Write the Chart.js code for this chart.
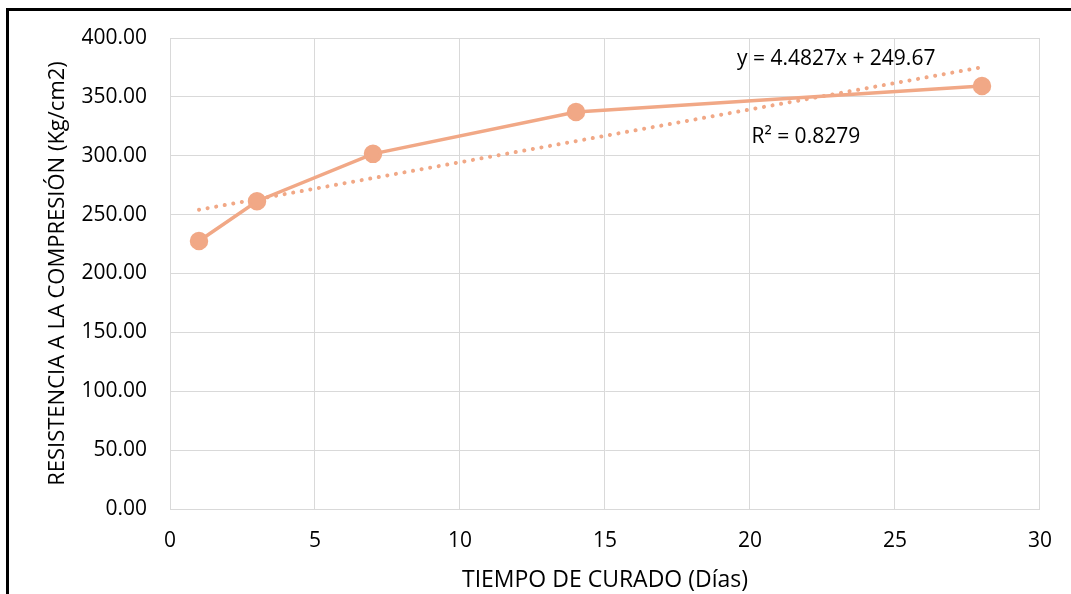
<!DOCTYPE html>
<html>
<head>
<meta charset="utf-8">
<script src="https://cdn.jsdelivr.net/npm/chart.js"></script>
<style>
  body { margin: 0; background: #fff; }
  #wrap { position: relative; width: 1071px; height: 594px; overflow: hidden; }
  #frame { position: absolute; left: 6px; top: 8px; width: 2000px; height: 2000px;
           border-left: 3px solid #000; border-top: 3px solid #000; pointer-events: none; }
</style>
</head>
<body>
<div id="wrap">
  <canvas id="chart" width="1071" height="594"></canvas>
  <div id="frame"></div>
</div>
<script>
// curing time (days) and compressive strength (kg/cm2)
const dias = [1, 3, 7, 14, 28];
const resistencia = [227.6, 261.4, 301.6, 337.1, 359.2];

// linear trend shown on the chart
const pendiente = 4.4827;
const intercepto = 249.67;
const r2 = 0.8279;
const trendX = [1, 28];

const color = '#F1A886';
const fontFamily = '"Open Sans", sans-serif';

// equation labels, anchored in data units
const etiquetas = [
    { text: 'y = 4.4827x + 249.67', x: 19.55, y: 382 },
    { text: 'R\u00B2 = 0.8279', x: 20.05, y: 316 }
];

const trendPoints = trendX.map(x => ({ x: x, y: pendiente * x + intercepto }));

const labelPlugin = {
    id: 'ecuacion',
    afterDatasetsDraw(chart) {
        const ctx = chart.ctx;
        const xs = chart.scales.x;
        const ys = chart.scales.y;
        ctx.save();
        ctx.font = '21px ' + fontFamily;
        ctx.fillStyle = '#000';
        ctx.textAlign = 'left';
        ctx.textBaseline = 'middle';
        etiquetas.forEach(l => {
            ctx.fillText(l.text, xs.getPixelForValue(l.x), ys.getPixelForValue(l.y));
        });
        ctx.restore();
    }
};

const ctx = document.getElementById('chart').getContext('2d');
new Chart(ctx, {
    type: 'scatter',
    data: {
        datasets: [{
            label: 'Resistencia',
            data: dias.map((d, i) => ({ x: d, y: resistencia[i] })),
            showLine: true,
            borderColor: color,
            backgroundColor: color,
            borderWidth: 3.5,
            pointRadius: 7.5,
            pointBackgroundColor: color,
            pointBorderColor: color,
            tension: 0
        }, {
            label: 'Lineal',
            data: trendPoints,
            showLine: true,
            borderColor: color,
            borderWidth: 4,
            borderDash: [0.1, 8.6],
            borderCapStyle: 'round',
            pointRadius: 0
        }]
    },
    options: {
        responsive: false,
        animation: false,
        layout: { padding: { left: 0, top: 38, right: 31, bottom: 0 } },
        plugins: {
            legend: { display: false },
            tooltip: { enabled: false }
        },
        scales: {
            x: {
                type: 'linear',
                min: 0,
                max: 30,
                ticks: { stepSize: 5, padding: 19, color: '#000', font: { family: fontFamily, size: 21 } },
                grid: { color: '#D9D9D9', drawTicks: false },
                border: { color: '#D9D9D9' },
                title: {
                    display: true,
                    text: 'TIEMPO DE CURADO (Días)',
                    color: '#000',
                    font: { family: fontFamily, size: 23 },
                    padding: { top: 0, bottom: 0 }
                },
                afterFit: (scale) => { scale.height = 85; }
            },
            y: {
                min: 0,
                max: 400,
                ticks: {
                    stepSize: 50,
                    padding: 23,
                    color: '#000',
                    font: { family: fontFamily, size: 21 },
                    callback: (v) => v.toFixed(2)
                },
                grid: { color: '#D9D9D9', drawTicks: false },
                border: { color: '#D9D9D9' },
                title: {
                    display: true,
                    text: 'RESISTENCIA A LA COMPRESIÓN (Kg/cm2)',
                    color: '#000',
                    font: { family: fontFamily, size: 22 },
                    padding: { top: 45, bottom: 0 }
                },
                afterFit: (scale) => { scale.width = 170; }
            }
        }
    },
    plugins: [labelPlugin]
});
</script>
</body>
</html>
